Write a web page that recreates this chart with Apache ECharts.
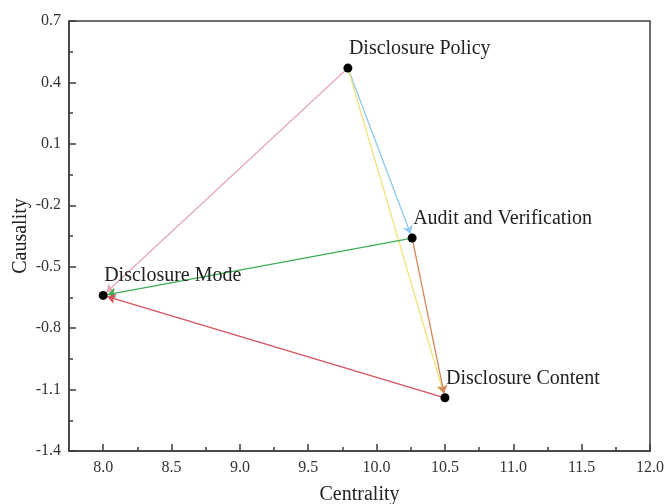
<!DOCTYPE html>
<html>
<head>
<meta charset="utf-8">
<script src="https://cdn.jsdelivr.net/npm/echarts@6/dist/echarts.min.js"></script>
<style>html,body{margin:0;padding:0;background:#fff;}#c{width:665px;height:504px;}</style>
</head>
<body>
<div id="c"></div>
<script>
var nodeNames = ['Disclosure Policy', 'Audit and Verification', 'Disclosure Content', 'Disclosure Mode'];
var centrality = [9.79, 10.26, 10.50, 8.00];
var causality = [0.47, -0.36, -1.14, -0.64];
var linkSources = ['Disclosure Policy', 'Disclosure Policy', 'Disclosure Policy', 'Audit and Verification', 'Audit and Verification', 'Disclosure Content'];
var linkTargets = ['Disclosure Mode', 'Audit and Verification', 'Disclosure Content', 'Disclosure Mode', 'Disclosure Content', 'Disclosure Mode'];
var linkColors = ['#e8a7b8', '#8fc8ee', '#f2e27a', '#3daf55', '#d4875a', '#d9505e'];
var xMajorTicks = [8.0, 8.5, 9.0, 9.5, 10.0, 10.5, 11.0, 11.5, 12.0];
var xMinorTicks = [8.25, 8.75, 9.25, 9.75, 10.25, 10.75, 11.25, 11.75];

var font = 'Liberation Serif';
var axisColor = '#3c3c3c';

var nodes = nodeNames.map(function (n, i) {
  return { name: n, value: [centrality[i], causality[i]] };
});
var links = linkSources.map(function (s, i) {
  return { source: s, target: linkTargets[i], lineStyle: { color: linkColors[i] } };
});

var chart = echarts.init(document.getElementById('c'), null, { renderer: 'canvas' });
chart.setOption({
  backgroundColor: '#fff',
  animation: false,
  grid: { left: 69, right: 15, top: 21, bottom: 53, containLabel: false, outerBoundsMode: 'none',
    show: true, borderColor: axisColor, borderWidth: 1.5 },
  xAxis: [{
    type: 'value', min: 7.75, max: 12.0, position: 'bottom',
    name: 'Centrality', nameLocation: 'middle', nameGap: 34, nameMoveOverlap: false,
    nameTextStyle: { fontFamily: font, fontSize: 20, color: '#222' },
    axisLine: { show: true, onZero: false, lineStyle: { color: axisColor, width: 1.5 } },
    axisTick: { show: true, inside: true, length: 7, customValues: xMajorTicks, lineStyle: { color: axisColor, width: 1.5 } },
    axisLabel: { customValues: xMajorTicks, fontFamily: font, fontSize: 16, color: '#333', margin: 9,
      formatter: function (v) { return v.toFixed(1); } },
    splitLine: { show: false }
  }, {
    type: 'value', min: 7.75, max: 12.0, position: 'bottom',
    axisLine: { show: false, onZero: false },
    axisTick: { show: true, inside: true, length: 4, customValues: xMinorTicks, lineStyle: { color: axisColor, width: 1.5 } },
    axisLabel: { show: false },
    splitLine: { show: false }
  }],
  yAxis: {
    type: 'value', min: -1.4, max: 0.7, interval: 0.3,
    name: 'Causality', nameLocation: 'middle', nameGap: 38, nameMoveOverlap: false,
    nameTextStyle: { fontFamily: font, fontSize: 20, color: '#222' },
    axisLine: { show: true, onZero: false, lineStyle: { color: axisColor, width: 1.5 } },
    axisTick: { show: true, inside: true, length: 7, lineStyle: { color: axisColor, width: 1.5 } },
    minorTick: { show: true, splitNumber: 2, length: 4, lineStyle: { color: axisColor, width: 1.5 } },
    axisLabel: { fontFamily: font, fontSize: 16, color: '#333', margin: 8,
      formatter: function (v) { return (Math.round(v * 10) / 10).toFixed(1); } },
    splitLine: { show: false }
  },
  series: [{
    type: 'graph',
    coordinateSystem: 'cartesian2d',
    xAxisIndex: 0,
    yAxisIndex: 0,
    symbol: 'circle',
    symbolSize: 9,
    itemStyle: { color: '#000' },
    edgeSymbol: ['none', 'arrow'],
    edgeSymbolSize: [0, 8],
    lineStyle: { width: 1.3, opacity: 1 },
    label: {
      show: true, position: 'top', align: 'left', offset: [1, 0],
      fontFamily: font, fontSize: 20, color: '#222'
    },
    data: nodes,
    links: links
  }]
});
</script>
</body>
</html>
